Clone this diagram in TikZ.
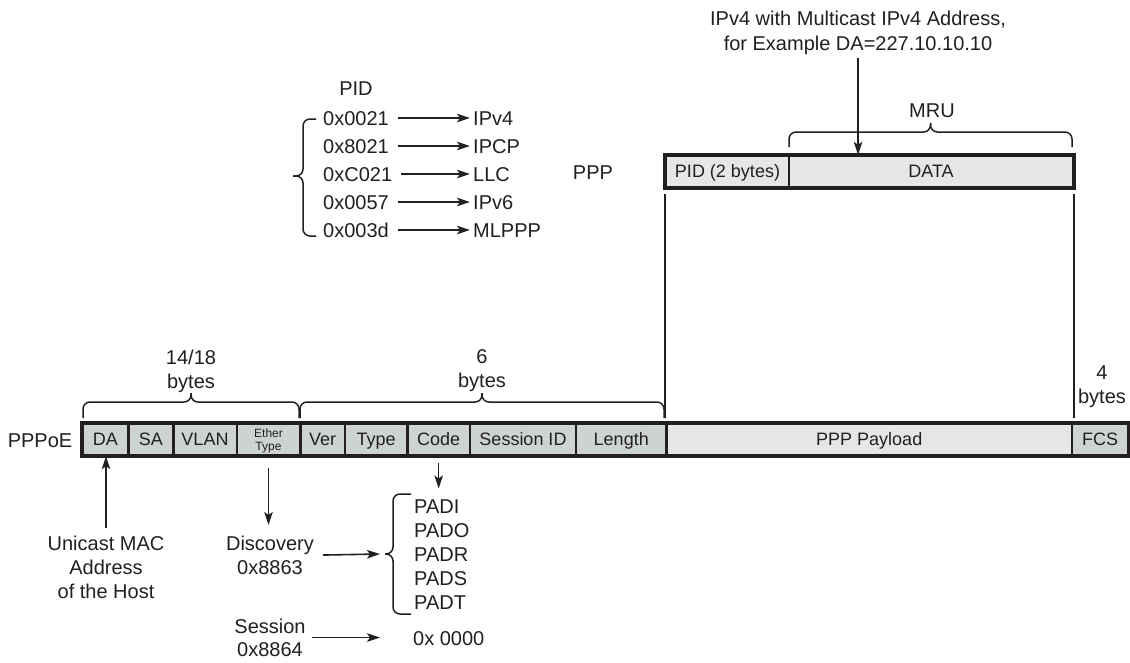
\documentclass[tikz,border=0pt]{standalone}
\usepackage{fontspec}
\setmainfont{Liberation Sans}
\usetikzlibrary{arrows.meta}
\definecolor{ink}{HTML}{231F20}
\definecolor{hdr}{HTML}{CDD3D3}
\definecolor{lite}{HTML}{E6E6E6}
\newcommand\mybrace[4]{%
  \draw[brc] (#1,#3) -- (#1,#4) -- ({(#1+#2)/2},#4) -- ({(#1+#2)/2},{#4-9});
  \draw[brc] (#2,#3) -- (#2,#4) -- ({(#1+#2)/2},#4) -- ({(#1+#2)/2},{#4-9});}
\begin{document}
\begin{tikzpicture}[x=1pt,y=-1pt,
  lbl/.style={font=\fontsize{20}{24}\selectfont, text=ink, inner sep=0pt, text height=14.3pt, text depth=0pt},
  mlbl/.style={font=\fontsize{20}{24}\selectfont, text=ink, inner sep=0pt, align=center, anchor=north},
  cellbase/.style={draw=ink, line width=2.4pt, fill=hdr, text=ink, inner sep=0pt, minimum height=31pt},
  cell/.style={cellbase, font=\fontsize{18}{21}\selectfont, text height=12.9pt, text depth=0pt},
  litecell/.style={cell, fill=lite},
  arr/.style={draw=ink, line width=1.6pt, -{Stealth[length=13pt,width=8.5pt,inset=3pt]}},
  ln/.style={draw=ink, line width=1.5pt},
  brc/.style={draw=ink, line width=1.5pt, rounded corners=7pt}]
\useasboundingbox[fill=white] (0,0) rectangle (1130,662);

% PPPoE row
\node[cell, minimum width=45.6pt] (da) at (105.5,439.5) {DA};
\node[cell, minimum width=45pt] (sa) at (150.8,439.5) {SA};
\node[cell, minimum width=63.4pt] (vlan) at (205,439.5) {VLAN};
\node[cellbase, minimum width=63.6pt, font=\fontsize{12}{13}\selectfont, align=center, text depth=0pt] (ether) at (268.5,439.5) {Ether\\Type};
\node[cell, minimum width=44.7pt] (ver) at (322.65,439.5) {Ver};
\node[cell, minimum width=62.3pt] (type) at (376.15,439.5) {Type};
\node[cell, minimum width=62.7pt] (code) at (438.65,439.5) {Code};
\node[cell, minimum width=106pt] (sid) at (523,439.5) {Session ID};
\node[cell, minimum width=90.5pt] (len) at (621.25,439.5) {Length};
\node[litecell, minimum width=405.5pt] (payload) at (869.25,439.5) {PPP Payload};
\node[cell, minimum width=56pt] (fcs) at (1100,439.5) {FCS};
\draw[ink, line width=3.4pt] (da.north west) rectangle (fcs.south east);

% PPP row
\node[litecell, minimum width=123pt] (pidc) at (727.5,171.5) {PID (2 bytes)};
\node[litecell, minimum width=284pt] (data) at (931,171.5) {DATA};
\draw[ink, line width=3.4pt] (pidc.north west) rectangle (data.south east);

% labels
\node[lbl] (pppoe) at (40,440) {PPPoE};
\node[lbl] (ppp) at (593,172) {PPP};
\node[lbl] (pid) at (356,88) {PID};
\node[lbl] (mru) at (932,110) {MRU};
\node[mlbl, font=\fontsize{20}{25}\selectfont] (note) at (858,10.7) {IPv4 with Multicast IPv4 Address,\\for Example DA=227.10.10.10};
\node[mlbl] (b1418) at (191,349.7) {14/18\\bytes};
\node[mlbl] (b6) at (482,349.7) {6\\bytes};
\node[mlbl] (b4) at (1102,365.7) {4\\bytes};

% braces
\mybrace{83}{299}{418}{402}
\mybrace{300}{664}{418}{402}
\mybrace{789}{1072}{147}{132}

% vertical guide lines
\draw[ln] ([yshift=-6pt]pidc.south west) -- ([yshift=5pt]pidc.south west |- payload.north);
\draw[ln] ([yshift=-6pt]data.south east) -- ([yshift=5pt]data.south east |- payload.north);

% top arrow
\draw[arr] ([yshift=-3pt]note.south) -- (note.south |- data.north);

% PID list
\foreach \i/\hx/\lab/\yy in {1/0x0021/IPv4/118, 2/0x8021/IPCP/146, 3/0xC021/LLC/174, 4/0x0057/IPv6/202, 5/0x003d/MLPPP/230}{
  \node[lbl, anchor=west] (p\i) at (323,\yy) {\hx};
  \node[lbl, anchor=west] (l\i) at (473,\yy) {\lab};
  \draw[arr, shorten <=9pt, shorten >=3pt] (p\i) -- (l\i);
}
\draw[brc] (316,119) -- (303,119) -- (303,176) -- (293,176);
\draw[brc] (316,236) -- (303,236) -- (303,176) -- (293,176);

% bottom part
\node[mlbl] (unicast) at (106,535.5) {Unicast MAC\\Address\\of the Host};
\draw[arr] ([yshift=8pt]unicast.north) -- (unicast.north |- da.south);

\node[mlbl] (disc) at (270,535.5) {Discovery\\0x8863};
\draw[arr] ([yshift=-12pt]ether.south) -- ([yshift=10.5pt]ether.south |- disc.north);

\node[mlbl, align=left, anchor=north west] (pads) at (414,499.5) {PADI\\PADO\\PADR\\PADS\\PADT};
\coordinate (padtip) at (385,554);
\draw[brc] (411,494) -- (393,494) -- (393,554) -- (padtip);
\draw[brc] (411,614) -- (393,614) -- (393,554) -- (padtip);
\draw[arr] ([xshift=9pt]disc.east) -- ([xshift=-5pt]padtip);
\draw[arr] ([yshift=-7pt]code.south) -- ([yshift=11pt]code.south |- pads.north);

\node[mlbl, font=\fontsize{20}{23}\selectfont] (sess) at (270,618.5) {Session\\0x8864};
\node[lbl, anchor=west] (zero) at (413,638) {0x 0000};
\draw[arr] ([xshift=6pt]sess.east) -- ([xshift=-33pt]zero.west |- sess.east);
\end{tikzpicture}
\end{document}
